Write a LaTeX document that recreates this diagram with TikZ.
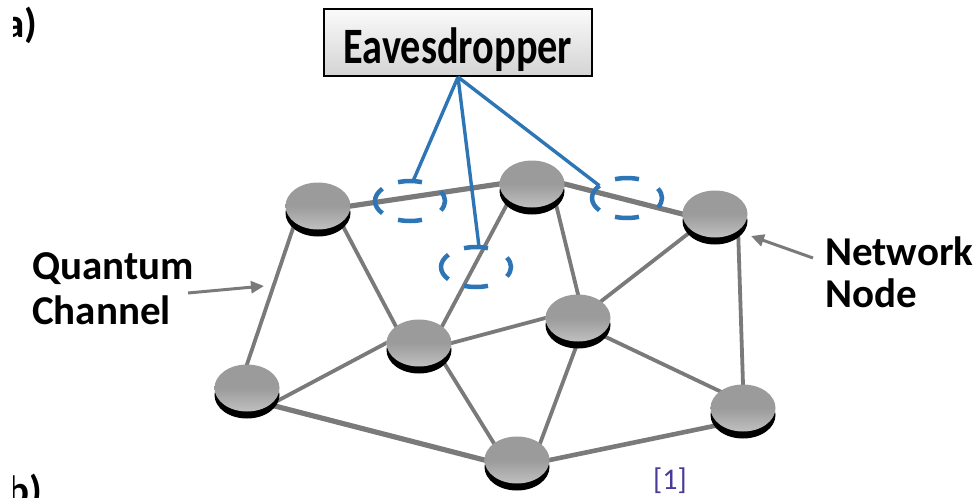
\documentclass[tikz,border=0pt]{standalone}
\usepackage{fontspec}
\setmainfont{Carlito}
\usepackage{graphicx}
\usetikzlibrary{shapes.geometric,shadows,arrows.meta,backgrounds}
\definecolor{linkgray}{RGB}{122,122,122}
\definecolor{discgray}{RGB}{155,155,155}
\definecolor{disclight}{RGB}{192,192,192}
\definecolor{tapblue}{RGB}{46,117,182}
\definecolor{refviolet}{RGB}{72,58,150}
\definecolor{boxtop}{RGB}{250,250,250}
\definecolor{boxbottom}{RGB}{212,212,212}

\begin{document}
\begin{tikzpicture}[x=1pt,y=-1pt,
  netnode/.style={ellipse, minimum width=65pt, minimum height=47pt, inner sep=0pt,
    top color=discgray, bottom color=disclight, middle color=discgray,
    drop shadow={shadow xshift=0pt, shadow yshift=-7pt, opacity=1, fill=black}},
  link/.style={draw=linkgray, line width=3.8pt, shorten <=-3pt, shorten >=-3pt},
  trunk/.style={link, line width=5.2pt},
  tap/.style={draw=tapblue, line width=3.4pt},
  tapdash/.style={draw=tapblue, line width=4.5pt},
  pointer/.style={draw=linkgray, line width=3pt, -{Triangle[length=13pt,width=12pt]}},
  caption/.style={font=\fontsize{41}{45}\selectfont\bfseries, align=left, inner sep=0pt},
  pics/tapring/.style={code={
    \draw[tapdash] (70:35pt and 20pt) arc[start angle=70, end angle=110, x radius=35pt, y radius=20pt];
    \draw[tapdash] (142:35pt and 20pt) arc[start angle=142, end angle=218, x radius=35pt, y radius=20pt];
    \draw[tapdash] (250:35pt and 20pt) arc[start angle=250, end angle=290, x radius=35pt, y radius=20pt];
    \draw[tapdash] (-28:35pt and 20pt) arc[start angle=-28, end angle=28, x radius=35pt, y radius=20pt];
    \coordinate (-top) at (85:35pt and 20pt);
    \coordinate (-side) at (142:35pt and 20pt);
  }}
]
\useasboundingbox (0,0) rectangle (980,498);

% panel letters, trimmed at the left edge
\begin{scope}
  \clip (13,0) rectangle (120,498);
  \node[caption, anchor=base west] (pa) at (4,37) {a)};
  \node[caption, anchor=base west] (pb) at (7,504) {b)};
\end{scope}

% network nodes
\node[netnode] (n1) at (318,206) {};
\node[netnode] (n2) at (532,184) {};
\node[netnode] (n3) at (715,214) {};
\node[netnode] (n4) at (419,343) {};
\node[netnode] (n5) at (578,318) {};
\node[netnode] (n6) at (247,388) {};
\node[netnode] (n7) at (517,460) {};
\node[netnode] (n8) at (743,408) {};

% quantum channels
\begin{scope}[on background layer]
  \draw[trunk] (n1.east) -- (n2.west);
  \draw[trunk] (n2.east) -- (n3.west);
  \draw[trunk] (n6.south east) -- (n7.west);
  \draw[trunk, line width=4.6pt] (n7.east) -- (n8.south west);
  \draw[link] (n1.south west) -- (n6.north);
  \draw[link] (n1.south east) -- (n4.north west);
  \draw[link] (n2.south west) -- (n4.north east);
  \draw[link] (n2.south east) -- (n5.north);
  \draw[link] (n3.south west) -- (n5.north east);
  \draw[link] (n3.south east) -- (n8.north);
  \draw[link] (n4.east) -- (n5.west);
  \draw[link] (n6.south east) -- (n4.west);
  \draw[link] (n4.south east) -- (n7.north west);
  \draw[link] (n5.south) -- (n7.north east);
  \draw[link] (n5.south east) -- (n8.north west);
\end{scope}

% eavesdropper and its taps
\node[draw=black, line width=2pt, minimum width=268pt, minimum height=67pt, inner sep=0pt,
  top color=boxtop, bottom color=boxbottom, text height=44pt, text depth=3pt,
  font=\fontsize{51}{56}\selectfont\bfseries] (eve) at (458,42.5) {\scalebox{0.79}[1]{Eavesdropper}};

\pic (e1) at (410,201) {tapring};
\pic (e2) at (476,267) {tapring};
\pic (e3) at (627,198) {tapring};

\draw[tap] (eve.south) -- (e1-top);
\draw[tap] (eve.south) -- (e2-top);
\draw[tap] (eve.south) -- (e3-side);

% captions with pointers (anchored on the baseline of the second line)
\node[caption, anchor=base west] (qc) at (32,324) {Quantum\\Channel};
\node[caption, font=\fontsize{41}{42}\selectfont\bfseries, anchor=base west] (nn) at (825,307) {Network\\Node};

\coordinate (qc-from) at (188,293);
\coordinate (qc-to) at (264,286);
\draw[pointer] (qc-from) -- (qc-to);
\coordinate (nn-from) at (813,258);
\coordinate (nn-to) at (751,236);
\draw[pointer] (nn-from) -- (nn-to);

\node[font=\fontsize{30}{32}\selectfont, text=refviolet, anchor=base west, inner sep=0pt] (ref) at (653,489) {[1]};
\end{tikzpicture}
\end{document}
